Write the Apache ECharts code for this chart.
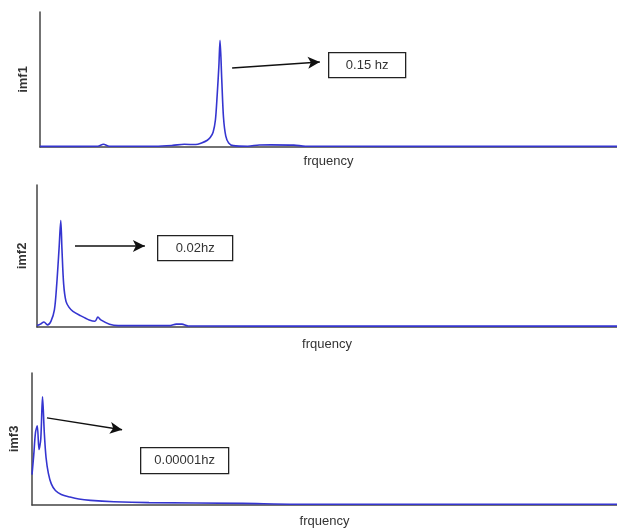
<!DOCTYPE html>
<html>
<head>
<meta charset="utf-8">
<script src="https://cdn.jsdelivr.net/npm/echarts@6/dist/echarts.min.js"></script>
<style>html,body{margin:0;padding:0;background:#fff;}#c{width:617px;height:528px;}</style>
</head>
<body>
<div id="c"></div>
<script>
// normalised frequency (0..1 of axis) and amplitude (0..1 of axis)
const freq1 = [0, 0.05, 0.10, 0.11, 0.12, 0.2, 0.23, 0.25, 0.27, 0.28, 0.29, 0.295, 0.300, 0.304, 0.307, 0.310, 0.312, 0.315, 0.318, 0.322, 0.327, 0.335, 0.36, 0.38, 0.40, 0.44, 0.46, 0.6, 1.0];
const amp1  = [0.005, 0.005, 0.006, 0.02, 0.006, 0.006, 0.012, 0.02, 0.018, 0.03, 0.05, 0.07, 0.11, 0.2, 0.38, 0.6, 0.79, 0.5, 0.22, 0.08, 0.03, 0.01, 0.006, 0.015, 0.016, 0.014, 0.006, 0.005, 0.005];
const freq2 = [0, 0.006, 0.012, 0.018, 0.024, 0.030, 0.034, 0.038, 0.041, 0.043, 0.046, 0.050, 0.055, 0.062, 0.075, 0.090, 0.100, 0.105, 0.11, 0.125, 0.14, 0.23, 0.24, 0.25, 0.26, 0.5, 1.0];
const amp2  = [0.01, 0.02, 0.035, 0.015, 0.04, 0.12, 0.3, 0.55, 0.75, 0.55, 0.3, 0.18, 0.14, 0.11, 0.08, 0.05, 0.04, 0.07, 0.05, 0.02, 0.01, 0.01, 0.02, 0.02, 0.008, 0.006, 0.006];
const freq3 = [0, 0.003, 0.006, 0.009, 0.012, 0.015, 0.018, 0.021, 0.024, 0.028, 0.033, 0.04, 0.05, 0.065, 0.08, 0.1, 0.14, 0.2, 0.36, 0.45, 1.0];
const amp3  = [0.23, 0.38, 0.55, 0.6, 0.42, 0.5, 0.82, 0.55, 0.36, 0.24, 0.16, 0.11, 0.08, 0.06, 0.045, 0.035, 0.025, 0.018, 0.012, 0.006, 0.006];
const names = ['imf1', 'imf2', 'imf3'];
const xName = 'frquency';
const boxTexts = ['0.15 hz', '0.02hz', '0.00001hz'];

function pairs(xs, ys) { return xs.map((x, i) => [x, ys[i]]); }
const series = [pairs(freq1, amp1), pairs(freq2, amp2), pairs(freq3, amp3)];
const arrows = [
  [[0.333, 0.585], [0.485, 0.63]],
  [[0.0655, 0.57], [0.186, 0.57]],
  [[0.0256, 0.66], [0.154, 0.57]]
];
const grids = [
  {left: 40, top: 12, right: 0, height: 135, outerBoundsMode: 'none', containLabel: false},
  {left: 37, top: 185, right: 0, height: 142, outerBoundsMode: 'none', containLabel: false},
  {left: 32, top: 373, right: 0, height: 132, outerBoundsMode: 'none', containLabel: false}
];
const xGaps = [8, 11, 10];
const yGaps = [10, 8, 11];
const font = '"Liberation Sans", Arial, sans-serif';
const chart = echarts.init(document.getElementById('c'), null, {renderer: 'canvas'});
chart.setOption({
  animation: false,
  backgroundColor: '#fff',
  grid: grids,
  xAxis: grids.map((g, i) => ({
    type: 'value', gridIndex: i, min: 0, max: 1,
    name: xName, nameLocation: 'middle', nameGap: xGaps[i],
    nameTextStyle: {fontFamily: font, fontSize: 13, color: '#333'},
    axisLine: {lineStyle: {color: '#444', width: 1.5}},
    axisTick: {show: false}, axisLabel: {show: false}, splitLine: {show: false}
  })),
  yAxis: grids.map((g, i) => ({
    type: 'value', gridIndex: i, min: 0, max: 1,
    name: names[i], nameLocation: 'middle', nameGap: yGaps[i],
    nameTextStyle: {fontFamily: font, fontSize: 13, color: '#333', fontWeight: 'bold'},
    axisLine: {show: true, lineStyle: {color: '#444', width: 1.5}},
    axisTick: {show: false}, axisLabel: {show: false}, splitLine: {show: false}
  })),
  series: series.map((d, i) => ({
    type: 'line', xAxisIndex: i, yAxisIndex: i, data: d,
    showSymbol: false, smooth: 0.3,
    lineStyle: {color: '#3535d0', width: 1.6},
    markLine: {
      silent: true, symbol: ['none', 'arrow'], symbolSize: [9, 12],
      lineStyle: {color: '#111', width: 1.5, type: 'solid'},
      label: {show: false},
      data: [[{coord: arrows[i][0]}, {coord: arrows[i][1]}]]
    }
  })),
  graphic: [
    {x: 328, y: 52, w: 77, h: 25},
    {x: 157, y: 235, w: 75, h: 25},
    {x: 140, y: 447, w: 88, h: 26}
  ].map((b, i) => ({
    type: 'group', left: b.x, top: b.y,
    children: [
      {type: 'rect', shape: {x: 0, y: 0, width: b.w, height: b.h}, style: {fill: '#fff', stroke: '#222', lineWidth: 1.3}},
      {type: 'text', x: b.w / 2, y: b.h / 2, style: {text: boxTexts[i], fill: '#333', font: '13px ' + font, align: 'center', verticalAlign: 'middle'}}
    ]
  }))
});
</script>
</body>
</html>
